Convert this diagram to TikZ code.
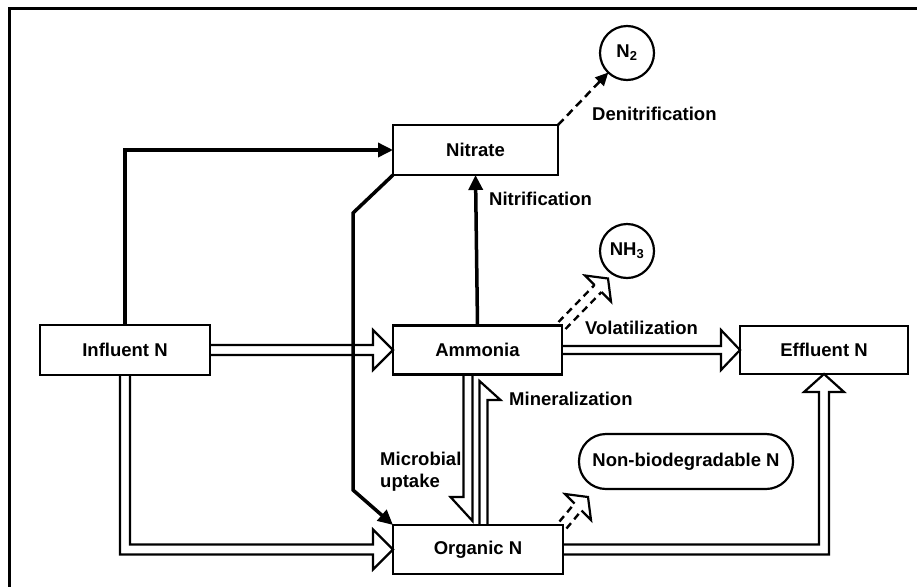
\documentclass[tikz,border=0pt]{standalone}
\usepackage{fontspec}
\setmainfont{Liberation Sans}
\usetikzlibrary{arrows.meta,calc}
\begin{document}
\begin{tikzpicture}[x=1pt,y=-1pt,
  every node/.style={font=\fontsize{18.5}{22}\selectfont\bfseries},
  box/.style={draw,line width=2.2pt,inner sep=0pt,outer sep=0pt},
  gas/.style={draw,circle,line width=2.2pt,inner sep=0pt,outer sep=0pt,minimum size=54pt},
  lbl/.style={inner sep=0pt,anchor=west},
  frame/.style={line width=3pt},
  thickarrow/.style={line width=3.5pt,line join=miter,-{Triangle[length=15pt,width=14pt]}},
  denit/.style={line width=2.5pt,dash pattern=on 8pt off 5pt,-{Triangle[length=13pt,width=12pt]}},
  hollow/.style={line width=2.2pt,line join=miter},
  dshaft/.style={line width=2.4pt,dash pattern=on 7pt off 5pt}]
\useasboundingbox (0,0) rectangle (917,587);
% frame
\draw[frame] (917,8) -- (9,8) -- (9,587);
% boxes
\node[box,minimum width=165pt,minimum height=50pt] (nitrate) at (475.5,150) {Nitrate};
\node[box,minimum width=169pt,minimum height=49pt] (ammonia) at (477.5,350) {Ammonia};
\node[box,minimum width=170pt,minimum height=50pt] (influent) at (125,350) {Influent N};
\node[box,minimum width=168pt,minimum height=48pt] (effluent) at (824,350) {Effluent N};
\node[box,minimum width=170pt,minimum height=49pt] (organic) at (478,549.5) {Organic N};
\node[box,rounded corners=27pt,minimum width=214pt,minimum height=55pt] (nonbio) at (686,461.5) {Non-biodegradable N};
\node[gas] (n2) at (627,53) {N\textsubscript{2}};
\node[gas] (nh3) at (627,251) {NH\textsubscript{3}};
% labels
\node[lbl] (ldenit) at (592,114) {Denitrification};
\node[lbl] (lnitrif) at (489,199) {Nitrification};
\node[lbl] (lvol) at (585,328) {Volatilization};
\node[lbl] (lmin) at (509,399) {Mineralization};
\node[lbl,align=left] (lmic) at (380,472) {Microbial\\uptake};
% solid arrows
\draw[thickarrow] (influent.north) |- (nitrate.west);
\draw[thickarrow] (ammonia.north) -- (nitrate.south);
\draw[thickarrow] (nitrate.south west) -- ++(-40,38) -- ++(0,277) -- (organic.north west);
\draw[denit] (nitrate.north east) -- (n2);
% hollow arrows
\draw[hollow] ($(influent.east)+(0,-5)$) -- ($(ammonia.west)+(-20,-5)$) -- ++(0,-15) -- (ammonia.west) -- ($(ammonia.west)+(-20,20)$) -- ++(0,-15) -- ($(influent.east)+(0,5)$);
\draw[hollow] ($(ammonia.east)+(0,-4)$) -- ($(effluent.west)+(-19,-4)$) -- ++(0,-16) -- (effluent.west) -- ($(effluent.west)+(-19,20)$) -- ++(0,-16) -- ($(ammonia.east)+(0,4)$);
\draw[hollow] ($(influent.south)+(-5,0)$) |- ($(organic.west)+(-20,5)$) -- ++(0,15) -- (organic.west) -- ($(organic.west)+(-20,-20)$) -- ++(0,15) -| ($(influent.south)+(5,0)$);
\draw[hollow] ($(organic.east)+(0,5)$) -| ($(effluent.south)+(5,18)$) -- ++(15,0) -- (effluent.south) -- ($(effluent.south)+(-20,18)$) -- ++(15,0) |- ($(organic.east)+(0,-5)$);
% microbial uptake (down) and mineralization (up)
\draw[hollow] ($(ammonia.south)+(-5,0)$) -- ++(0,146.5) -- ++(-22,-24) -- ++(13,0) -- ++(0,-122.5);
\draw[hollow] ($(organic.north)+(1.5,0)$) -- ++(0,-144) -- ++(21,19) -- ++(-13,0) -- ++(0,125);
% volatilization to NH3
\begin{scope}[shift={(ammonia.north east)}]
  \draw[dshaft] (3.5,3.5) -- (39.5,-33.5);
  \draw[dshaft] (-3.5,-3.5) -- (32.5,-40.5);
  \draw[hollow] (32.5,-40.5) -- (23,-50) -- (46,-47) -- (49,-24) -- (39.5,-33.5);
\end{scope}
% organic to non-biodegradable
\begin{scope}[shift={(organic.north east)}]
  \draw[dshaft] (3.5,3.5) -- (18.5,-14.5);
  \draw[dshaft] (-3.5,-3.5) -- (11.5,-21.5);
  \draw[hollow] (11.5,-21.5) -- (2,-31) -- (25,-28) -- (28,-5) -- (18.5,-14.5);
\end{scope}
\end{tikzpicture}
\end{document}
